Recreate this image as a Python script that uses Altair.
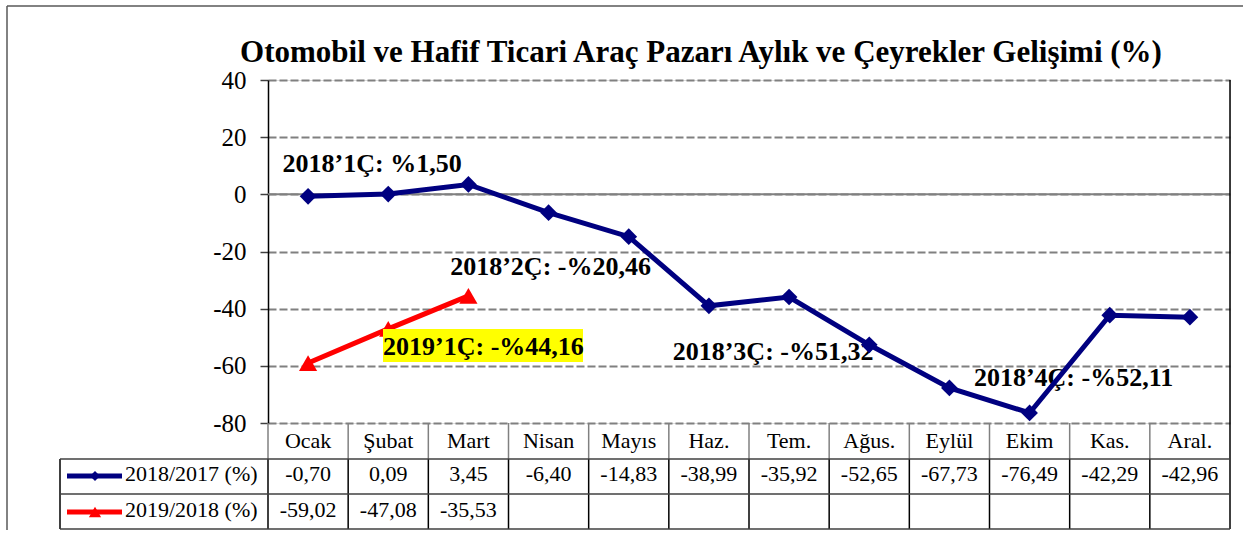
import altair as alt
import pandas as pd

# ---------------- data ----------------
months = ["Ocak", "Şubat", "Mart", "Nisan", "Mayıs", "Haz.", "Tem.", "Ağus.",
          "Eylül", "Ekim", "Kas.", "Aral."]
vals_2018 = [-0.70, 0.09, 3.45, -6.40, -14.83, -38.99, -35.92, -52.65,
             -67.73, -76.49, -42.29, -42.96]
vals_2019 = [-59.02, -47.08, -35.53]
series_names = ["2018/2017 (%)", "2019/2018 (%)"]
y_ticks = [-80, -60, -40, -20, 0, 20, 40]
title_text = "Otomobil ve Hafif Ticari Araç Pazarı Aylık ve Çeyrekler Gelişimi (%)"

ann_text = ["2018’1Ç: %1,50", "2018’2Ç: -%20,46", "2018’3Ç: -%51,32", "2018’4Ç: -%52,11"]
ann_month = ["Ocak", "Nisan", "Tem.", "Ekim"]
ann_y = [7.8, -28.2, -58.0, -67.1]
ann_dx = [64, 2, -16, 44]

hl_text = "2019’1Ç: -%44,16"
hl_month = "Mart"
hl_y = -56.2
hl_dx = 15

# ---------------- style ----------------
FONT = "Liberation Serif"
W, H = 962, 343
NAVY = "#000080"
RED = "#FF0000"
ROW_TOP = H          # table header top
ROW1 = 379           # header bottom / row 1 top
ROW2 = 414           # row 1 bottom / row 2 top
ROW_END = 449        # table bottom
LEG_LEFT = -208
ANN_SIZE = 26
TAB_SIZE = 22


def fmt(v):
    return f"{v:.2f}".replace(".", ",")


def xenc(**kw):
    return alt.X("month:N", sort=months,
                 scale=alt.Scale(type="band", paddingInner=0, paddingOuter=0),
                 axis=None, **kw)


yaxis = alt.Axis(values=y_ticks, title=None, labelFont=FONT, labelFontSize=25,
                 labelColor="black", labelPadding=14, tickSize=8,
                 labelExpr="datum.value < 0 ? '-' + abs(datum.value) : '' + datum.value",
                 tickColor="#404040", tickWidth=1.5, domainColor="black",
                 domainWidth=1.5, grid=True, gridColor="#808080",
                 gridDash=[8, 3], gridWidth=2)


def yenc():
    return alt.Y("value:Q", scale=alt.Scale(domain=[-80, 40], nice=False, zero=False),
                 axis=yaxis)


df18 = pd.DataFrame({"month": months, "value": vals_2018,
                     "label": [fmt(v) for v in vals_2018]})
df19 = pd.DataFrame({"month": months[:len(vals_2019)], "value": vals_2019,
                     "label": [fmt(v) for v in vals_2019]})
dm = pd.DataFrame({"month": months})
one = pd.DataFrame({"a": [0]})

layers = []

# zero line (solid)
layers.append(alt.Chart(pd.DataFrame({"value": [0]})).mark_rule(
    color="#808080", strokeWidth=2).encode(y=yenc()))

# right border of plot + table
layers.append(alt.Chart(one).mark_rule(color="black", strokeWidth=1.5).encode(
    x=alt.value(W), y=alt.value(0), y2=alt.value(ROW_END)))

# table vertical lines
layers.append(alt.Chart(dm).mark_rule(color="#808080", strokeWidth=1.5).encode(
    x=xenc(bandPosition=0), y=alt.value(ROW_TOP), y2=alt.value(ROW1)))
layers.append(alt.Chart(dm).mark_rule(color="black", strokeWidth=1.5).encode(
    x=xenc(bandPosition=0), y=alt.value(ROW1), y2=alt.value(ROW_END)))
layers.append(alt.Chart(one).mark_rule(color="black", strokeWidth=1.5).encode(
    x=alt.value(LEG_LEFT), y=alt.value(ROW1), y2=alt.value(ROW_END)))
# table horizontal lines
for yy in [ROW1, ROW2, ROW_END]:
    layers.append(alt.Chart(one).mark_rule(color="#404040", strokeWidth=1.5).encode(
        x=alt.value(LEG_LEFT), x2=alt.value(W), y=alt.value(yy)))

# table header + values
layers.append(alt.Chart(dm).mark_text(font=FONT, fontSize=TAB_SIZE, baseline="alphabetic",
                                      color="black").encode(
    x=xenc(), y=alt.value(368), text="month:N"))
layers.append(alt.Chart(df18).mark_text(font=FONT, fontSize=TAB_SIZE, baseline="alphabetic",
                                        color="black").encode(
    x=xenc(), y=alt.value(401), text="label:N"))
layers.append(alt.Chart(df19).mark_text(font=FONT, fontSize=TAB_SIZE, baseline="alphabetic",
                                        color="black").encode(
    x=xenc(), y=alt.value(437), text="label:N"))

# legend keys in the table
leg_specs = [(series_names[0], NAVY, "diamond", 100, 396, 401),
             (series_names[1], RED, "triangle-up", 150, 432, 437)]
for name, col, shp, sz, yc, yb in leg_specs:
    ldf = pd.DataFrame({"series": [name]})
    layers.append(alt.Chart(ldf).mark_rule(color=col, strokeWidth=5).encode(
        x=alt.value(-201), x2=alt.value(-146), y=alt.value(yc)))
    layers.append(alt.Chart(ldf).mark_point(shape=shp, filled=True, color=col,
                                            size=sz, opacity=1).encode(
        x=alt.value(-173), y=alt.value(yc)))
    layers.append(alt.Chart(ldf).mark_text(font=FONT, fontSize=TAB_SIZE, align="left",
                                           baseline="alphabetic", color="black").encode(
        x=alt.value(-143), y=alt.value(yb), text="series:N"))

# quarter annotations (2018)
for t, m, v, dx in zip(ann_text, ann_month, ann_y, ann_dx):
    adf = pd.DataFrame({"month": [m], "value": [v], "t": [t]})
    layers.append(alt.Chart(adf).mark_text(font=FONT, fontSize=ANN_SIZE, fontWeight="bold",
                                           baseline="alphabetic", dx=dx,
                                           color="black").encode(
        x=xenc(), y=yenc(), text="t:N"))

# 2018/2017 line
layers.append(alt.Chart(df18).mark_line(color=NAVY, strokeWidth=5).encode(
    x=xenc(), y=yenc()))
layers.append(alt.Chart(df18).mark_point(shape="diamond", filled=True, color=NAVY,
                                         size=280, opacity=1).encode(
    x=xenc(), y=yenc()))

# 2019/2018 line
layers.append(alt.Chart(df19).mark_line(color=RED, strokeWidth=5).encode(
    x=xenc(), y=yenc()))
layers.append(alt.Chart(df19).mark_point(shape="triangle-up", filled=True, color=RED,
                                         size=330, opacity=1).encode(
    x=xenc(), y=yenc()))

# highlighted 2019 label
layers.append(alt.Chart(one).mark_rect(color="#FFFF00").encode(
    x=alt.value(115), x2=alt.value(315), y=alt.value(249), y2=alt.value(282)))
hdf = pd.DataFrame({"month": [hl_month], "value": [hl_y], "t": [hl_text]})
layers.append(alt.Chart(hdf).mark_text(font=FONT, fontSize=ANN_SIZE, fontWeight="bold",
                                       baseline="alphabetic", dx=hl_dx,
                                       color="black").encode(
    x=xenc(), y=yenc(), text="t:N"))

# title
tdf = pd.DataFrame({"t": [title_text]})
layers.append(alt.Chart(tdf).mark_text(font=FONT, fontSize=31, fontWeight="bold",
                                       baseline="alphabetic", color="black").encode(
    x=alt.value(433), y=alt.value(-18), text="t:N"))

# outer frame (left and top edges)
layers.append(alt.Chart(one).mark_rule(color="#595959", strokeWidth=1.5).encode(
    x=alt.value(-261), y=alt.value(-74), y2=alt.value(450)))
layers.append(alt.Chart(one).mark_rule(color="#595959", strokeWidth=1.5).encode(
    x=alt.value(-261), x2=alt.value(975), y=alt.value(-74)))

chart = alt.layer(*layers).properties(
    width=W, height=H,
    padding={"left": 6, "top": 5, "right": 0, "bottom": 0},
    background="white",
).configure_view(stroke=None).configure_axis(
    labelFont=FONT
).configure_text(font=FONT).configure(font=FONT)

chart.save("out.html", embed_options={"renderer": "svg", "actions": False})
